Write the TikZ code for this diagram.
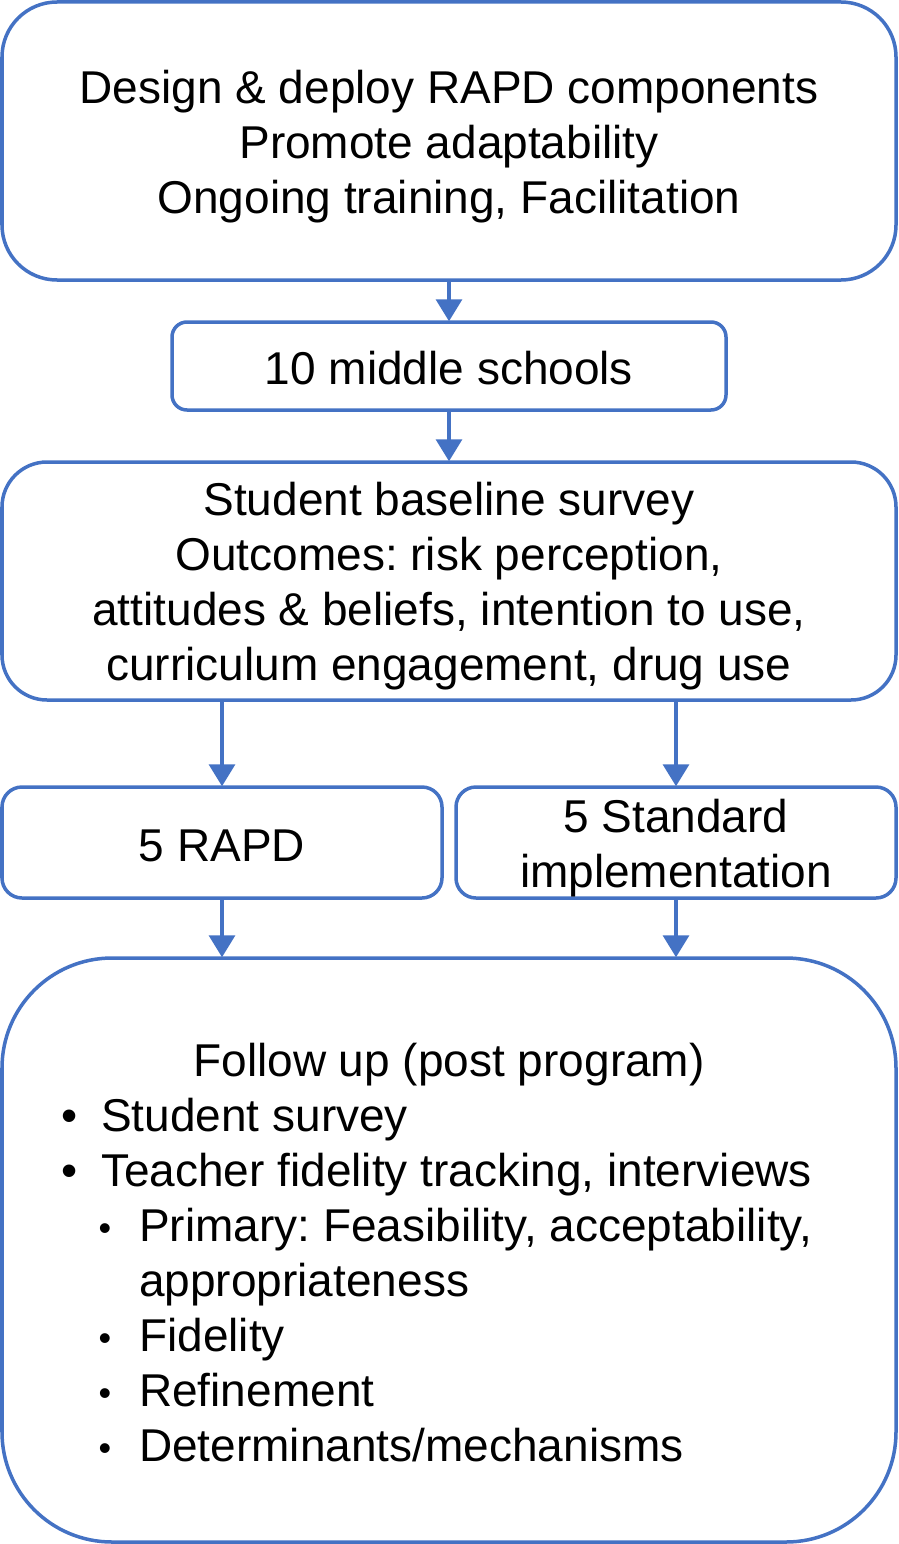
\documentclass[tikz,border=0pt]{standalone}
\usepackage{fontspec}
\setmainfont{Liberation Sans}
\usetikzlibrary{arrows.meta}
\definecolor{boxblue}{HTML}{4472C4}
\frenchspacing
\begin{document}
\begin{tikzpicture}[x=1pt,y=-1pt,
  box/.style={draw=boxblue,line width=3.5pt,fill=white,inner sep=0pt},
  boxtxt/.style={inner sep=0pt,align=center,font=\fontsize{46}{55}\selectfont},
  arr/.style={draw=boxblue,line width=3.5pt,-{Triangle[width=26pt,length=22pt]},shorten >=-1pt},
  txt/.style={inner sep=0pt,font=\fontsize{46}{55}\selectfont},
  sbul/.style={inner sep=0pt,font=\fontsize{36}{36}\selectfont}]
\useasboundingbox (0,0) rectangle (898,1544);
% boxes
\node[box,rounded corners=55pt,minimum width=894pt,minimum height=278pt] (b1) at (449,141) {};
\node[boxtxt,yshift=-6pt] (l1) at (b1.center)
  {Design \& deploy RAPD components\\Promote adaptability\\Ongoing training, Facilitation};
\node[box,rounded corners=15pt,minimum width=554pt,minimum height=88pt] (b2) at (449,366) {};
\node[boxtxt,yshift=-2pt] (l2) at (b2.center) {10 middle schools};
\node[box,rounded corners=45pt,minimum width=894pt,minimum height=238pt] (b3) at (449,581) {};
\node[boxtxt,yshift=-5pt] (l3) at (b3.center)
  {Student baseline survey\\Outcomes: risk perception,\\attitudes \& beliefs, intention to use,\\curriculum engagement, drug use};
\node[box,rounded corners=20pt,minimum width=440pt,minimum height=111pt] (b4) at (222,842.5) {};
\node[boxtxt,yshift=-3pt] (l4) at (b4.center) {5 RAPD};
\node[box,rounded corners=20pt,minimum width=440pt,minimum height=111pt] (b5) at (676,842.5) {};
\node[boxtxt,yshift=-6pt] (l5) at (b5.center) {5 Standard\\implementation};
\node[box,rounded corners=110pt,minimum width=894pt,minimum height=584pt] (b6) at (449,1250) {};
% arrows
\draw[arr] (b1.south) -- (b2.north);
\draw[arr] (b2.south) -- (b3.north);
\draw[arr] (b3.south -| b4.north) -- (b4.north);
\draw[arr] (b3.south -| b5.north) -- (b5.north);
\draw[arr] (b4.south) -- (b4.south |- b6.north);
\draw[arr] (b5.south) -- (b5.south |- b6.north);
% follow-up text
\node[txt,anchor=base] (t0) at (449,1076) {Follow up (post program)};
\node[txt,anchor=base] (p1) at (70,1131) {\textbullet};
\node[txt,anchor=base west] (t1) at (101,1131) {Student survey};
\node[txt,anchor=base] (p2) at (70,1186) {\textbullet};
\node[txt,anchor=base west] (t2) at (101,1186) {Teacher fidelity tracking, interviews};
\node[sbul,anchor=base] (q1) at (105,1240) {\textbullet};
\node[txt,anchor=base west] (t3) at (139,1241) {Primary: Feasibility, acceptability,};
\node[txt,anchor=base west] (t4) at (139,1296) {appropriateness};
\node[sbul,anchor=base] (q2) at (105,1350) {\textbullet};
\node[txt,anchor=base west] (t5) at (139,1351) {Fidelity};
\node[sbul,anchor=base] (q3) at (105,1405) {\textbullet};
\node[txt,anchor=base west] (t6) at (139,1406) {Refinement};
\node[sbul,anchor=base] (q4) at (105,1460) {\textbullet};
\node[txt,anchor=base west] (t7) at (139,1461) {Determinants/mechanisms};
\end{tikzpicture}
\end{document}
